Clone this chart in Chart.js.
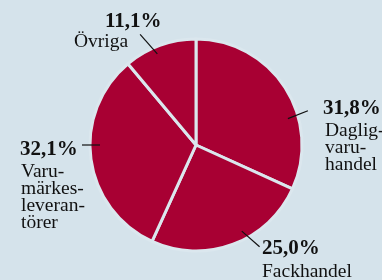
<!DOCTYPE html>
<html>
<head>
<meta charset="utf-8">
<script src="https://cdn.jsdelivr.net/npm/chart.js@4/dist/chart.umd.min.js"></script>
<style>
    html, body { margin: 0; padding: 0; background: #d5e3eb; }
    #wrap { width: 382px; height: 280px; }
</style>
</head>
<body>
<div id="wrap"><canvas id="pie" width="382" height="280"></canvas></div>
<script>
// andel per kanal, medurs från kl 12
const categories = ['Dagligvaruhandel', 'Fackhandel', 'Varumärkesleverantörer', 'Övriga'];
const shares = [31.8, 25.0, 32.1, 11.1];
const valueLabels = ['31,8%', '25,0%', '32,1%', '11,1%'];
const nameLines = [
    ['Daglig-', 'varu-', 'handel'],
    ['Fackhandel'],
    ['Varu-', 'märkes-', 'leveran-', 'törer'],
    ['Övriga']
];

// placering av etiketter (relativt cirkelns mitt)
const labelLayout = [
    { line: [74, 95.6, 73, 117], x: 127, y: -31, nx: 129, ny: -9 },
    { line: [152, 97.5, 148, 120], x: 66, y: 109, nx: 66, ny: 132 },
    { line: [270, 96, 270, 114], x: -176, y: 10, nx: -175, ny: 31.5 },
    { line: [-23, 99, -26.8, 124], x: -91, y: -118, nx: -122, ny: -98.5 }
];

const labelPlugin = {
    id: 'pieLabels',
    afterDraw(chart) {
        const ctx = chart.ctx;
        const arc = chart.getDatasetMeta(0).data[0];
        const cx = arc.x, cy = arc.y;
        ctx.save();
        ctx.strokeStyle = '#111';
        ctx.lineWidth = 1.2;
        ctx.fillStyle = '#111';
        ctx.textBaseline = 'alphabetic';
        ctx.textAlign = 'left';
        labelLayout.forEach((l, i) => {
            const [a1, r1, a2, r2] = l.line;
            const p = (a, r) => [cx + r * Math.sin(a * Math.PI / 180), cy - r * Math.cos(a * Math.PI / 180)];
            const s = p(a1, r1), e = p(a2, r2);
            ctx.beginPath();
            ctx.moveTo(s[0], s[1]);
            ctx.lineTo(e[0], e[1]);
            ctx.stroke();

            ctx.font = 'bold 21px "Liberation Serif", "Times New Roman", serif';
            ctx.fillText(valueLabels[i], cx + l.x, cy + l.y);
            ctx.font = '19.5px "Liberation Serif", "Times New Roman", serif';
            nameLines[i].forEach((t, j) => {
                ctx.fillText(t, cx + l.nx, cy + l.ny + j * 17);
            });
        });
        ctx.restore();
    }
};

new Chart(document.getElementById('pie'), {
    type: 'pie',
    data: {
        labels: categories,
        datasets: [{
            data: shares,
            backgroundColor: '#a80033',
            borderColor: '#dbe7ee',
            borderWidth: 3,
            radius: 106
        }]
    },
    options: {
        responsive: false,
        animation: false,
        layout: { padding: { left: 92, right: 82, top: 42, bottom: 32 } },
        plugins: {
            legend: { display: false },
            tooltip: { enabled: false }
        }
    },
    plugins: [labelPlugin]
});
</script>
</body>
</html>
